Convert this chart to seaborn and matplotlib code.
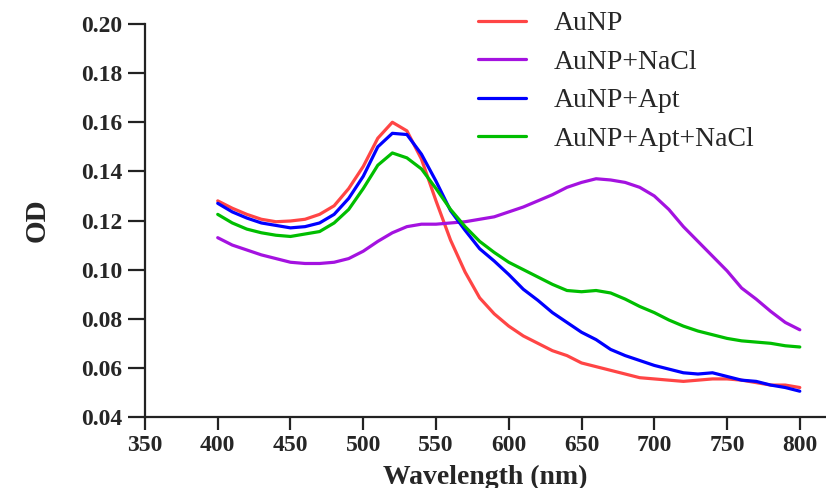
import matplotlib
matplotlib.use("Agg")
import matplotlib.pyplot as plt
import seaborn as sns
import numpy as np
import pandas as pd

# wavelength grid (nm)
wavelength = list(range(400, 801, 10))

aunp = [0.128, 0.125, 0.1225, 0.1205, 0.1195, 0.1198, 0.1205, 0.1225, 0.126, 0.133,
        0.142, 0.1535, 0.160, 0.1565, 0.145, 0.128, 0.112, 0.099, 0.0885, 0.082,
        0.077, 0.073, 0.070, 0.067, 0.065, 0.062, 0.0605, 0.059, 0.0575, 0.056,
        0.0555, 0.055, 0.0545, 0.055, 0.0555, 0.0555, 0.055, 0.054, 0.053, 0.053,
        0.052]

aunp_nacl = [0.113, 0.110, 0.108, 0.106, 0.1045, 0.103, 0.1025, 0.1025, 0.103, 0.1045,
             0.1075, 0.1115, 0.115, 0.1175, 0.1185, 0.1185, 0.119, 0.1195, 0.1205, 0.1215,
             0.1235, 0.1255, 0.128, 0.1305, 0.1335, 0.1355, 0.137, 0.1365, 0.1355, 0.1335,
             0.130, 0.1245, 0.1175, 0.1115, 0.1055, 0.0995, 0.0925, 0.088, 0.083, 0.0785,
             0.0755]

aunp_apt = [0.127, 0.1235, 0.121, 0.119, 0.118, 0.117, 0.1175, 0.119, 0.1225, 0.129,
            0.138, 0.150, 0.1555, 0.155, 0.147, 0.136, 0.124, 0.116, 0.1085, 0.1035,
            0.098, 0.092, 0.0875, 0.0825, 0.0785, 0.0745, 0.0715, 0.0675, 0.065, 0.063,
            0.061, 0.0595, 0.058, 0.0575, 0.058, 0.0565, 0.055, 0.0545, 0.053, 0.052,
            0.0505]

aunp_apt_nacl = [0.1225, 0.119, 0.1165, 0.115, 0.114, 0.1135, 0.1145, 0.1155, 0.119, 0.1245,
                 0.133, 0.1425, 0.1475, 0.1455, 0.141, 0.133, 0.1245, 0.1175, 0.1115, 0.107,
                 0.103, 0.100, 0.097, 0.094, 0.0915, 0.091, 0.0915, 0.0905, 0.088, 0.085,
                 0.0825, 0.0795, 0.077, 0.075, 0.0735, 0.072, 0.071, 0.0705, 0.070, 0.069,
                 0.0685]

labels = ["AuNP", "AuNP+NaCl", "AuNP+Apt", "AuNP+Apt+NaCl"]
colors = ["#FF4545", "#A412E0", "#0000FF", "#00BE00"]

df = pd.concat([
    pd.DataFrame({"Wavelength": wavelength, "OD": vals, "Sample": lab})
    for lab, vals in zip(labels, [aunp, aunp_nacl, aunp_apt, aunp_apt_nacl])
])

sns.set_style("ticks")
plt.rcParams["font.family"] = ["Liberation Serif", "DejaVu Serif"]

fig = plt.figure(figsize=(8.26, 4.88), dpi=100)
ax = fig.add_axes([0.1755, 0.1455, 0.8245, 0.8053])

sns.lineplot(data=df, x="Wavelength", y="OD", hue="Sample", hue_order=labels,
             palette=colors, linewidth=2.3, ax=ax)

ax.set_xlim(350, 818)
ax.set_ylim(0.04, 0.20)
ax.set_xticks(np.arange(350, 801, 50))
ax.set_yticks(np.arange(0.04, 0.201, 0.02))
ax.set_yticklabels([f"{v:.2f}" for v in np.arange(0.04, 0.201, 0.02)])

for s in ["top", "right"]:
    ax.spines[s].set_visible(False)
for s in ["left", "bottom"]:
    ax.spines[s].set_linewidth(1.6)
    ax.spines[s].set_color("#222222")

ax.tick_params(axis="both", direction="out", width=1.6, color="#222222",
               labelsize=17)
ax.tick_params(axis="x", length=9, pad=4)
ax.tick_params(axis="y", length=12, pad=4)
for lab in ax.get_xticklabels() + ax.get_yticklabels():
    lab.set_fontweight("bold")

ax.set_xlabel("Wavelength (nm)", fontsize=20, fontweight="bold", labelpad=6)
ax.set_ylabel("OD", fontsize=21, fontweight="bold", labelpad=22)

leg = ax.legend(loc="upper left", bbox_to_anchor=(0.548, 1.029), bbox_transform=fig.transFigure,
                frameon=False, fontsize=20, handlelength=1.75, handletextpad=1.0,
                labelspacing=0.47)
for line in leg.get_lines():
    line.set_linewidth(2.3)

plt.savefig("out.png", dpi=100)
